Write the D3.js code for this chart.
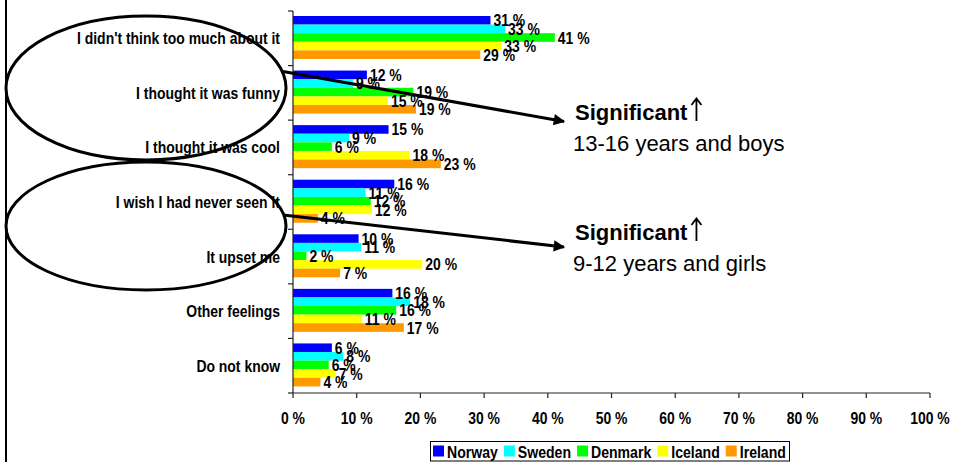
<!DOCTYPE html>
<html><head><meta charset="utf-8">
<script src="https://cdn.jsdelivr.net/npm/d3@7"></script>
<style>body{margin:0;background:#fff}svg{display:block}</style>
</head><body>
<svg id="c" width="953" height="462"></svg>
<script>
const categories = ["I didn't think too much about it","I thought it was funny","I thought it was cool","I wish I had never seen it","It upset me","Other feelings","Do not know"];
const seriesNames = ["Norway","Sweden","Denmark","Iceland","Ireland"];
const seriesColors = ["#0000ff","#00ffff","#00ff00","#ffff00","#ff9900"];
const norway  = [31.0, 11.6, 15.0, 15.9, 10.3, 15.6, 6.1];
const sweden  = [33.3,  9.4,  8.8, 11.4, 10.7, 18.4, 7.9];
const denmark = [41.1, 18.9,  6.1, 12.2,  2.1, 16.2, 5.6];
const iceland = [32.7, 14.9, 18.3, 12.4, 20.3, 10.8, 6.7];
const ireland = [29.4, 19.3, 23.2,  3.9,  7.4, 17.4, 4.3];
const xTicks = [0,10,20,30,40,50,60,70,80,90,100];
const notes = [
  {title:"Significant", sub:"13-16 years and boys"},
  {title:"Significant", sub:"9-12 years and girls"}
];

const values = [norway, sweden, denmark, iceland, ireland];
const svg = d3.select("#c");
const FONT = "'Liberation Sans', Arial, sans-serif";
const SX = 0.845, FS = 16.5;

const x = d3.scaleLinear().domain([0,100]).range([293,930]);
const y = d3.scaleBand().domain(categories).range([11,393]).padding(0);
const yi = d3.scaleBand().domain(seriesNames).range([5,48]).padding(0);

function stext(parent, tx, ty, str, anchor, opts={}) {
  const g = parent.append("g").attr("transform", `translate(${tx},${ty}) scale(${opts.sx ?? SX},1)`);
  return g.append("text").attr("x",0).attr("y",0)
    .attr("text-anchor", anchor).attr("font-family", FONT)
    .attr("font-size", opts.fs ?? FS).attr("font-weight", opts.fw ?? "bold")
    .attr("fill","#000").text(str);
}

// left frame line
svg.append("line").attr("x1",6).attr("x2",6).attr("y1",0).attr("y2",462)
  .attr("stroke","#000").attr("stroke-width",2);

// bars
const gBars = svg.append("g");
categories.forEach((c,ci) => {
  seriesNames.forEach((s,si) => {
    gBars.append("rect")
      .attr("x", x(0)).attr("y", y(c)+yi(s))
      .attr("width", x(values[si][ci]) - x(0))
      .attr("height", yi.bandwidth())
      .attr("fill", seriesColors[si]);
  });
});

// axes
const axG = svg.append("g");
axG.append("line").attr("x1",x(0)).attr("x2",x(0)).attr("y1",y.range()[0]).attr("y2",y.range()[1]).attr("stroke","#222").attr("stroke-width",1.2);
const bounds = categories.map(c=>y(c)).concat([y.range()[1]]);
bounds.forEach(b => axG.append("line").attr("x1",x(0)-5).attr("x2",x(0)).attr("y1",b).attr("y2",b).attr("stroke","#222").attr("stroke-width",1.2));
axG.append("line").attr("x1",x(0)).attr("x2",x(100)).attr("y1",393).attr("y2",393).attr("stroke","#222").attr("stroke-width",1.2);
xTicks.forEach(t => {
  axG.append("line").attr("x1",x(t)).attr("x2",x(t)).attr("y1",393).attr("y2",398).attr("stroke","#222").attr("stroke-width",1.2);
  stext(axG, x(t), 424, t + " %", "middle");
});

// category labels
categories.forEach(c => stext(svg, 280, y(c)+y.bandwidth()/2+6, c, "end"));

// value labels
categories.forEach((c,ci) => {
  seriesNames.forEach((s,si) => {
    const v = values[si][ci];
    stext(svg, x(v)+3, y(c)+yi(s)+yi.bandwidth()/2+6, Math.round(v)+" %", "start");
  });
});

// ellipses
svg.append("ellipse").attr("cx",146).attr("cy",88).attr("rx",140).attr("ry",72)
  .attr("fill","none").attr("stroke","#000").attr("stroke-width",3);
svg.append("ellipse").attr("cx",146).attr("cy",226).attr("rx",140).attr("ry",64)
  .attr("fill","none").attr("stroke","#000").attr("stroke-width",3);

// arrows
svg.append("defs").append("marker").attr("id","ah").attr("viewBox","0 0 10 10")
  .attr("refX",9).attr("refY",5).attr("markerWidth",5).attr("markerHeight",3.8)
  .attr("markerUnits","strokeWidth").attr("orient","auto")
  .append("path").attr("d","M0,0 L10,5 L0,10 Z").attr("fill","#000");
const arrows = [[283,71.5,564,121.5],[283,215,564,247]];
arrows.forEach(a => svg.append("line").attr("x1",a[0]).attr("y1",a[1]).attr("x2",a[2]).attr("y2",a[3])
  .attr("stroke","#000").attr("stroke-width",3).attr("marker-end","url(#ah)"));

// annotation texts
const noteY = [120, 240];
notes.forEach((n,i) => {
  const t = svg.append("text").attr("x",575).attr("y",noteY[i]).attr("font-family",FONT)
    .attr("font-size",22).attr("font-weight","bold").attr("fill","#000").text(n.title);
  const w = t.node().getComputedTextLength();
  const ax = 575 + w + 9, by = noteY[i];
  svg.append("path").attr("d",`M${ax},${by+1} V${by-21} M${ax-5},${by-15} L${ax},${by-21.5} L${ax+5},${by-15}`)
    .attr("fill","none").attr("stroke","#000").attr("stroke-width",1.8);
  svg.append("text").attr("x",573).attr("y",noteY[i]+31).attr("font-family",FONT)
    .attr("font-size",22).attr("fill","#000").text(n.sub);
});

// legend
const lg = svg.append("g");
lg.append("rect").attr("x",430.5).attr("y",441.5).attr("width",359).attr("height",19.5)
  .attr("fill","#fff").attr("stroke","#000").attr("stroke-width",1);
let lx = 433;
seriesNames.forEach((s,i) => {
  lg.append("rect").attr("x",lx).attr("y",445.5).attr("width",11).attr("height",11).attr("fill",seriesColors[i]);
  const t = stext(lg, lx+14, 457.5, s, "start", {fs:16, sx:0.88});
  lx += 14 + t.node().getComputedTextLength()*0.88 + 6;
});
</script>
</body></html>
